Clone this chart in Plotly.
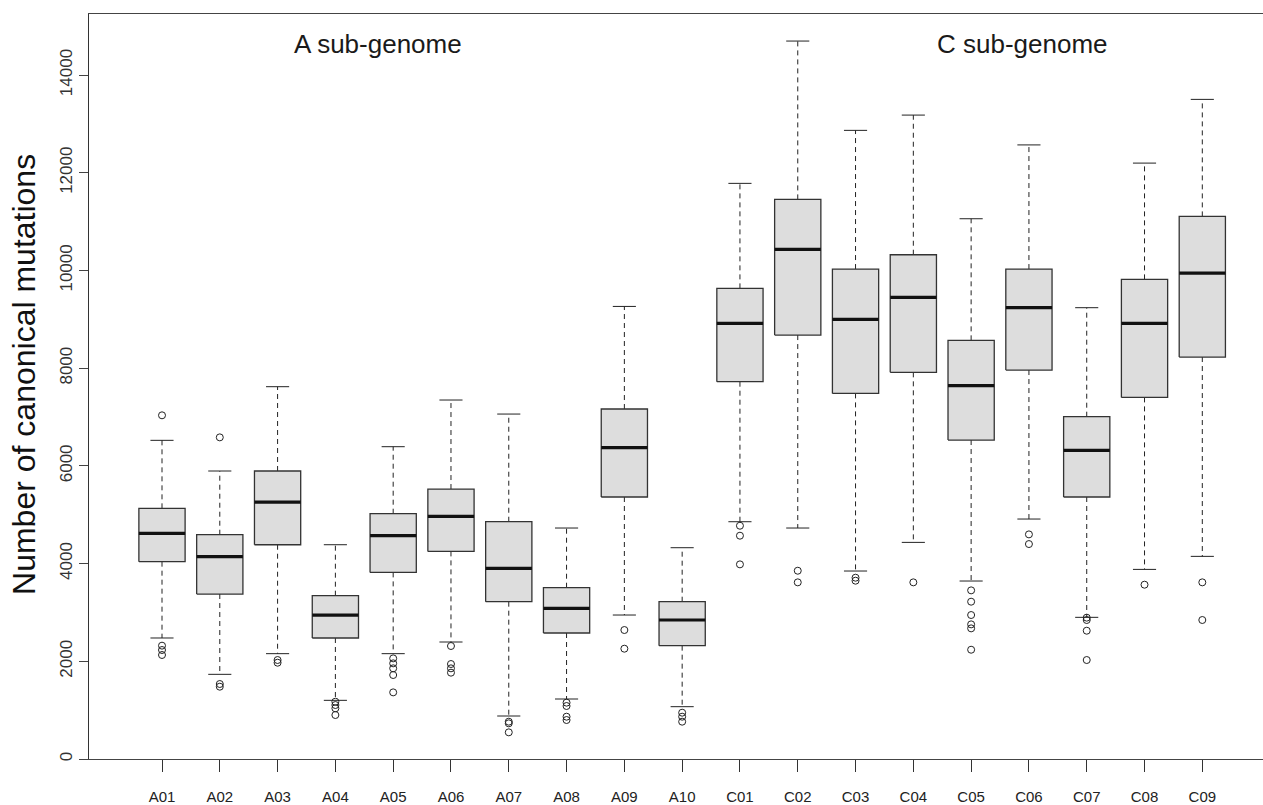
import plotly.graph_objects as go

# ---------------- data ----------------
categories = ["A01", "A02", "A03", "A04", "A05", "A06", "A07", "A08", "A09", "A10",
              "C01", "C02", "C03", "C04", "C05", "C06", "C07", "C08", "C09"]

lower_whisker = [2477, 1733, 2156, 1201, 2156, 2395, 880, 1228, 2947, 1071,
                 4857, 4728, 3848, 4434, 3643, 4912, 2900, 3881, 4148]
q1 = [4039, 3377, 4386, 2477, 3820, 4250, 3220, 2579, 5363, 2320,
      7723, 8678, 7484, 7915, 6529, 7962, 5363, 7402, 8228]
median = [4619, 4141, 5260, 2947, 4571, 4967, 3902, 3084, 6372, 2845,
          8918, 10432, 9000, 9450, 7642, 9238, 6318, 8918, 9947]
q3 = [5131, 4591, 5895, 3343, 5021, 5526, 4857, 3506, 7164, 3220,
      9634, 11455, 10029, 10322, 8570, 10029, 7007, 9818, 11107]
upper_whisker = [6523, 5895, 7621, 4386, 6393, 7348, 7061, 4728, 9264, 4325,
                 11783, 14696, 12868, 13181, 11059, 12570, 9238, 12198, 13502]
outliers = [
    [7035, 2320, 2231, 2129],
    [6584, 1535, 1480],
    [2026, 1971],
    [1173, 1105, 1037, 900],
    [2060, 1958, 1856, 1719, 1364],
    [2313, 1944, 1856, 1767],
    [764, 730, 546],
    [1153, 1085, 866, 798],
    [2640, 2258],
    [948, 866, 764],
    [4775, 4571, 3984],
    [3854, 3616],
    [3711, 3650],
    [3616],
    [3452, 3220, 2947, 2756, 2674, 2237],
    [4598, 4400],
    [2893, 2845, 2626, 2026],
    [3568],
    [3616, 2845],
]
y_ticks = [0, 2000, 4000, 6000, 8000, 10000, 12000, 14000]
y_title = "Number of canonical mutations"
group_labels = ["A sub-genome", "C sub-genome"]

# ---------------- geometry helpers ----------------
BOX_HALF = 0.4   # boxwex 0.8
CAP_HALF = 0.2   # staple half width
positions = list(range(1, len(categories) + 1))

box_x, box_y = [], []
med_x, med_y = [], []
wh_x, wh_y = [], []
cap_x, cap_y = [], []
out_x, out_y = [], []
for p, lo, a, m, b, hi, outs in zip(positions, lower_whisker, q1, median, q3,
                                   upper_whisker, outliers):
    box_x += [p - BOX_HALF, p + BOX_HALF, p + BOX_HALF, p - BOX_HALF, p - BOX_HALF, None]
    box_y += [a, a, b, b, a, None]
    med_x += [p - BOX_HALF, p + BOX_HALF, None]
    med_y += [m, m, None]
    wh_x += [p, p, None, p, p, None]
    wh_y += [b, hi, None, a, lo, None]
    cap_x += [p - CAP_HALF, p + CAP_HALF, None, p - CAP_HALF, p + CAP_HALF, None]
    cap_y += [hi, hi, None, lo, lo, None]
    out_x += [p] * len(outs)
    out_y += outs

fig = go.Figure()
fig.add_trace(go.Scatter(x=wh_x, y=wh_y, mode="lines",
                         line=dict(color="#222222", width=1, dash="5px,4px"),
                         hoverinfo="skip", showlegend=False))
fig.add_trace(go.Scatter(x=cap_x, y=cap_y, mode="lines",
                         line=dict(color="#222222", width=1),
                         hoverinfo="skip", showlegend=False))
fig.add_trace(go.Scatter(x=box_x, y=box_y, mode="lines", fill="toself",
                         fillcolor="#DDDDDD",
                         line=dict(color="#333333", width=1.3),
                         hoverinfo="skip", showlegend=False))
fig.add_trace(go.Scatter(x=med_x, y=med_y, mode="lines",
                         line=dict(color="#111111", width=3.2),
                         hoverinfo="skip", showlegend=False))
fig.add_trace(go.Scatter(x=out_x, y=out_y, mode="markers",
                         marker=dict(symbol="circle-open", size=7,
                                     color="#222222", line=dict(width=1)),
                         hoverinfo="skip", showlegend=False))

tickfam = "Liberation Sans, Arial, Helvetica, sans-serif"
regular = "Liberation Sans, Arial, Helvetica, sans-serif"

fig.update_layout(
    width=1263, height=805,
    margin=dict(l=89, r=0, t=14, b=46, pad=0),
    paper_bgcolor="white", plot_bgcolor="white",
    showlegend=False,
    hovermode=False,
    xaxis=dict(
        range=[-0.263, 20.05],
        tickmode="array", tickvals=positions, ticktext=categories,
        ticks="outside", ticklen=12, tickwidth=1, tickcolor="#333333",
        ticklabelstandoff=12,
        showline=True, linecolor="#444444", linewidth=1.2, mirror=True,
        showgrid=False, zeroline=False, automargin=False,
        tickfont=dict(family=tickfam, size=15, color="#222222"),
    ),
    yaxis=dict(
        range=[0, 15250],
        tickmode="array", tickvals=y_ticks,
        ticktext=[str(v) for v in y_ticks],
        tickangle=-90,
        ticks="outside", ticklen=9, tickwidth=1, tickcolor="#444444",
        showline=True, linecolor="#333333", linewidth=1.2,
        showgrid=False, zeroline=False, automargin=False,
        tickfont=dict(family=tickfam, size=17, color="#333333"),
    ),
    annotations=[
        dict(text=group_labels[0], xref="paper", yref="paper",
             x=0.2462, y=0.9597, xanchor="center", yanchor="middle",
             showarrow=False,
             font=dict(family=regular, size=26, color="#1a1a1a")),
        dict(text=group_labels[1], xref="paper", yref="paper",
             x=0.7952, y=0.9597, xanchor="center", yanchor="middle",
             showarrow=False,
             font=dict(family=regular, size=26, color="#1a1a1a")),
        dict(text=y_title, xref="paper", yref="paper",
             x=-0.0554, y=0.5168, xanchor="center", yanchor="middle",
             showarrow=False, textangle=-90,
             font=dict(family=regular, size=32, color="#111111")),
    ],
)

# remove the browser's default 8px body margin so the figure fills the window
fig.write_html("out.html",
               config={"displayModeBar": False, "staticPlot": True},
               post_script="document.body.style.margin='0';")
